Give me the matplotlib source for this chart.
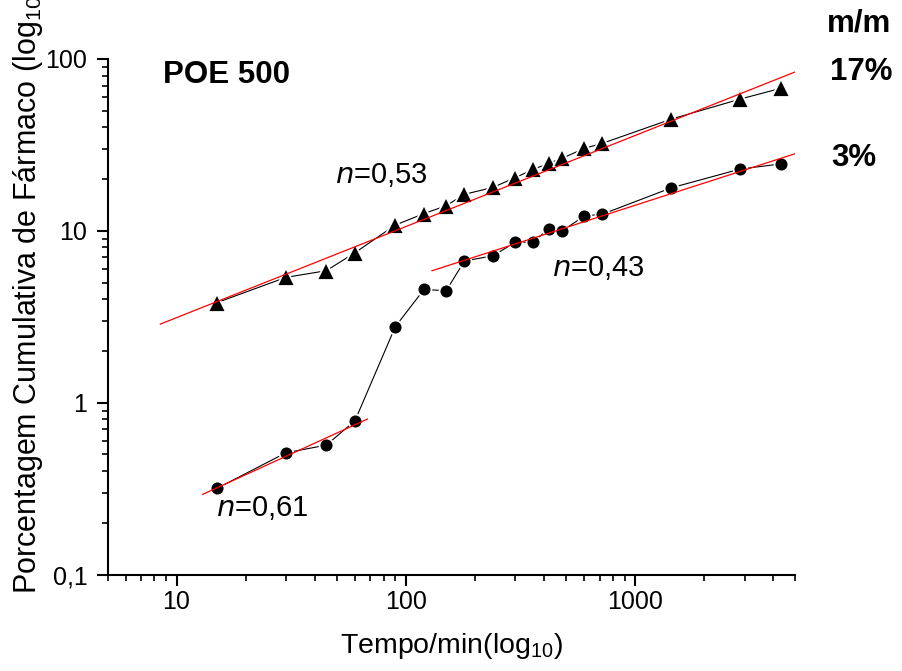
import numpy as np
import matplotlib
matplotlib.use("Agg")
import matplotlib.pyplot as plt
from matplotlib.ticker import LogLocator, NullFormatter

plt.rcParams['font.family'] = ['Liberation Sans', 'DejaVu Sans']
plt.rcParams['mathtext.default'] = 'regular'

# time points (min)
tempo = [15, 30, 45, 60, 90, 120, 150, 180, 240, 300, 360, 420, 480, 600, 720, 1440, 2880, 4320]

# cumulative released drug (%)
poe_17 = [3.82, 5.36, 5.86, 7.46, 10.8, 12.6, 14.0, 16.3, 17.9, 20.4, 22.8, 24.7, 26.4,
          30.2, 32.3, 44.7, 58.5, 67.5]
poe_3 = [0.317, 0.511, 0.566, 0.785, 2.77, 4.56, 4.48, 6.67, 7.16, 8.57, 8.6, 10.3, 9.97,
         12.2, 12.5, 17.8, 22.9, 24.5]

# power-law fits  M = k * t^n  (t range of each red line)
fit_n = [0.53, 0.43, 0.61]
fit_k = [0.922, 0.722, 0.0612]
fit_t0 = [8.5, 130, 13]
fit_t1 = [5000, 5000, 68]
fit_labels = ['0,53', '0,43', '0,61']
fit_label_pos = [(49, 19.05), (432, 5.46), (14.9, 0.219)]

fig = plt.figure(figsize=(9.02, 6.71), dpi=100)
ax = fig.add_axes([0.1192, 0.1438, 0.7626, 0.7683])

ax.set_xscale('log')
ax.set_yscale('log')
ax.set_xlim(5, 5000)
ax.set_ylim(0.1, 100)

# data series, lines stop short of markers (white halo)
ax.plot(tempo, poe_17, color='black', lw=0.8, marker='^', ms=13,
        mfc='black', mec='white', mew=1.3, zorder=3)
ax.plot(tempo, poe_3, color='black', lw=0.8, marker='o', ms=10,
        mfc='black', mec='white', mew=1.3, zorder=3)

for n, k, t0, t1 in zip(fit_n, fit_k, fit_t0, fit_t1):
    t = np.array([t0, t1])
    ax.plot(t, k * t ** n, color='red', lw=0.9, zorder=4)

for lab, (xt, yt) in zip(fit_labels, fit_label_pos):
    ax.text(xt, yt, '$\\it{n}$=' + lab, fontsize=21, ha='left', va='baseline')

ax.text(0.081, 0.953, 'POE 500', transform=ax.transAxes, fontsize=22.5,
        fontweight='bold', ha='left', va='baseline')

fig.text(0.917, 0.953, 'm/m', fontsize=22.5, fontweight='bold', ha='left', va='baseline')
fig.text(0.920, 0.881, '17%', fontsize=22.5, fontweight='bold', ha='left', va='baseline')
fig.text(0.922, 0.752, '3%', fontsize=22.5, fontweight='bold', ha='left', va='baseline')

# axes styling
for s in ['top', 'right']:
    ax.spines[s].set_visible(False)
for s in ['left', 'bottom']:
    ax.spines[s].set_linewidth(1.5)

ax.xaxis.set_minor_locator(LogLocator(base=10, subs=np.arange(2, 10), numticks=10))
ax.yaxis.set_minor_locator(LogLocator(base=10, subs=np.arange(2, 10), numticks=10))
ax.set_xticks([10, 100, 1000])
ax.set_xticklabels(['10', '100', '1000'])
ax.set_yticks([0.1, 1, 10, 100])
ax.set_yticklabels(['0,1', '1', '10', '100'])
ax.xaxis.set_minor_formatter(NullFormatter())
ax.yaxis.set_minor_formatter(NullFormatter())

ax.tick_params(which='major', direction='out', length=8, width=1.5, labelsize=18)
ax.tick_params(which='minor', direction='out', length=4.5, width=1.2)
ax.tick_params(axis='x', which='major', pad=3.3)
ax.tick_params(axis='y', which='major', pad=6.5)

ax.set_xlabel('Tempo/min(log$_{10}$)', fontsize=20.5, labelpad=12)
fig.text(0.0305, 1 - 594 / 671, 'Porcentagem Cumulativa de Fármaco (log$_{10}$)',
         fontsize=22, rotation=90, ha='center', va='bottom')

fig.savefig('out.png', dpi=100)
